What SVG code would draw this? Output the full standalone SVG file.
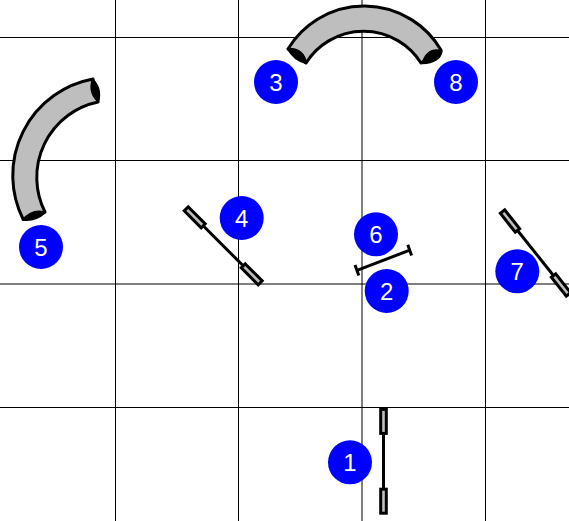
<svg xmlns="http://www.w3.org/2000/svg" width="569" height="521" viewBox="0 0 569 521">
<style>
.grid{stroke:#000;stroke-width:1;fill:none}
.tube{fill:#bebebe;stroke:#000;stroke-width:3;stroke-linejoin:round}
.mouth{fill:#000;stroke:#000;stroke-width:1.500;stroke-linejoin:round}
.pole{stroke:#000;stroke-width:3;fill:none}
.flag{fill:#bebebe;stroke:#000;stroke-width:3}
.badge{fill:#00f}
.num{fill:#fff;font-family:"Liberation Sans",Arial,sans-serif;font-size:24px;text-anchor:middle}
</style>
<rect width="569" height="521" fill="#fff"/>
<g id="grid" class="grid">
<path d="M115.500 0V521M238.500 0V521M362 0V521M485.500 0V521M0 37.500H569M0 160.500H569M0 284H569M0 407.500H569"/>
</g>
<g id="connectors"></g>
<g id="tunnel-3-8">
<path class="tube" d="M288 49A89 89 0 0 1 441 50L421 63A68 68 0 0 0 306 63Z"/>
<path class="mouth" d="M287.500 48.500Q303.500 47.500 306.500 63.500Q293.500 60.500 287.500 48.500Z"/>
<path class="mouth" d="M442 51Q428 46 422 63.500Q440 62.500 442 51Z"/>
</g>
<g id="tunnel-5">
<path class="tube" d="M93 79A98 98 0 0 0 23 219L45 212A77 77 0 0 1 98 102Z"/>
<path class="mouth" d="M92.500 79Q102 88 98.500 102Q88 93 92.500 79Z"/>
<path class="mouth" d="M22.500 220Q33 208 45.500 212.500Q35 222 22.500 220Z"/>
</g>
<g id="gate-4">
<path class="pole" d="M194.700 217.300L251.700 274.300"/>
<rect class="flag" x="-12" y="-2.800" width="24" height="5.600" transform="translate(194.700 217.300) rotate(45)"/>
<rect class="flag" x="-12" y="-2.800" width="24" height="5.600" transform="translate(251.700 274.300) rotate(45)"/>
</g>
<g id="gate-7">
<path class="pole" d="M510 221L561 285"/>
<rect class="flag" x="-12" y="-2.800" width="24" height="5.600" transform="translate(510 221) rotate(51.500)"/>
<rect class="flag" x="-12" y="-2.800" width="24" height="5.600" transform="translate(561 285) rotate(51.500)"/>
</g>
<g id="gate-1">
<path class="pole" d="M383.500 421.300V501.300"/>
<rect class="flag" x="380.700" y="409.400" width="5.600" height="24"/>
<rect class="flag" x="380.700" y="489.200" width="5.600" height="24"/>
</g>
<g id="bar-2-6">
<path class="pole" d="M357 270.300L409.700 250.200M355 265L358.800 275.500M407.800 244.800L411.600 255.500"/>
</g>
<g id="node-1"><circle class="badge" cx="350" cy="462.300" r="22"/><text class="num" x="350" y="470.800">1</text></g>
<g id="node-2"><circle class="badge" cx="386.700" cy="291" r="22"/><text class="num" x="386.700" y="299.500">2</text></g>
<g id="node-3"><circle class="badge" cx="276" cy="82" r="22"/><text class="num" x="276" y="90.500">3</text></g>
<g id="node-4"><circle class="badge" cx="241.700" cy="218" r="22"/><text class="num" x="241.700" y="226.500">4</text></g>
<g id="node-5"><circle class="badge" cx="41" cy="247" r="22"/><text class="num" x="41" y="255.500">5</text></g>
<g id="node-6"><circle class="badge" cx="376" cy="234.300" r="22"/><text class="num" x="376" y="242.800">6</text></g>
<g id="node-7"><circle class="badge" cx="517.300" cy="271.300" r="22"/><text class="num" x="517.300" y="279.800">7</text></g>
<g id="node-8"><circle class="badge" cx="456" cy="82" r="22"/><text class="num" x="456" y="90.500">8</text></g>
</svg>
